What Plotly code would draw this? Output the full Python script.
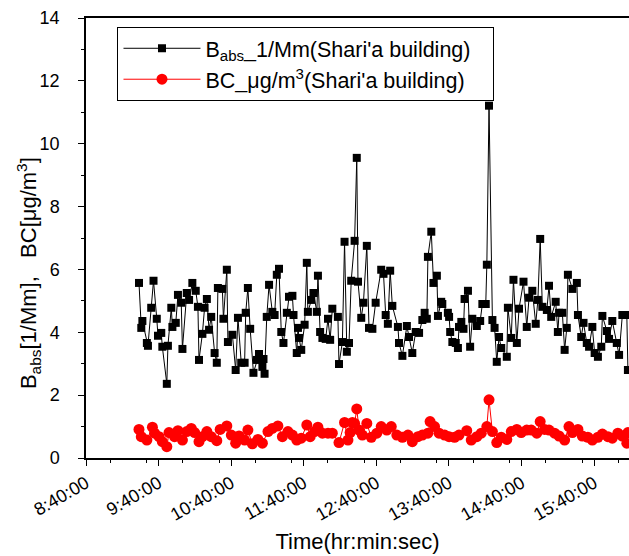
import pandas as pd
import plotly.graph_objects as go

BABS_MIN = [43.8, 45.7, 46.6, 50.3, 51.2, 53.9, 55.8, 58.5, 59.5, 62.2, 63.1, 66.8, 67.7, 70.5, 71.4, 74.2, 76.0, 78.7, 79.7, 83.3,
            85.2, 87.9, 90.7, 92.5, 93.4, 96.2, 98.0, 99.9, 101.7, 103.5, 106.3, 108.1, 109.0, 112.7, 113.6, 116.4, 117.3, 121.0, 123.7, 125.6,
            128.3, 131.1, 132.0, 133.8, 135.7, 138.4, 141.2, 143.0, 145.8, 146.7, 147.6, 149.4, 151.3, 154.0, 155.9, 157.7, 159.5, 161.4, 163.2, 166.0,
            167.8, 170.6, 171.5, 174.2, 175.2, 176.1, 177.9, 180.7, 182.5, 183.4, 186.2, 188.0, 190.8, 191.7, 193.5, 195.4, 198.1, 200.0, 201.8, 203.6,
            208.2, 209.1, 211.9, 213.7, 215.6, 217.4, 219.2, 222.0, 223.8, 224.8, 227.5, 229.3, 232.1, 233.9, 236.7, 239.4, 244.0, 245.9, 247.7, 249.5,
            251.4, 253.2, 257.8, 258.7, 261.5, 265.2, 267.0, 269.7, 272.5, 275.3, 278.0, 279.9, 281.7, 282.6, 285.4, 287.2, 290.0, 290.9, 293.6, 294.5,
            299.1, 300.1, 301.0, 302.8, 305.6, 307.4, 308.3, 310.2, 312.0, 312.9, 315.7, 317.5, 319.3, 323.0, 325.8, 327.6, 330.4, 331.3, 333.1, 335.9,
            337.7, 339.5, 341.4, 343.2, 347.8, 348.7, 351.5, 353.3, 356.1, 357.9, 361.6, 364.3, 366.2, 368.9, 371.7, 373.5, 375.4, 377.2, 380.9, 382.7,
            384.5, 388.2, 390.0, 391.0, 393.7, 395.6, 397.4, 398.3, 402.0, 405.7, 406.6, 409.3, 411.2, 413.9, 415.8, 418.5, 420.4, 423.1, 425.9, 426.8,
            430.5, 432.3, 435.0, 438.7, 440.6, 443.3, 447.0, 447.9]
BABS = [5.57, 4.14, 4.36, 3.66, 3.57, 4.78, 5.64, 4.43, 3.89, 3.98, 3.54, 2.36, 3.57, 4.78, 4.17, 4.30, 5.19, 4.94, 3.47, 5.25,
        5.03, 5.57, 5.32, 4.81, 3.12, 3.95, 4.78, 5.06, 4.08, 4.49, 3.34, 3.03, 5.41, 5.38, 4.43, 5.99, 3.69, 3.92, 2.80, 4.46,
        3.03, 3.03, 4.62, 5.41, 4.11, 2.71, 3.12, 3.31, 2.90, 3.15, 2.68, 4.49, 5.51, 4.65, 4.55, 5.83, 6.02, 4.01, 3.66, 4.62,
        5.13, 5.16, 4.55, 3.34, 4.14, 3.82, 3.44, 4.24, 6.21, 4.65, 5.03, 5.25, 4.65, 5.80, 4.01, 3.82, 3.79, 4.43, 3.76, 4.75,
        4.49, 2.99, 3.69, 6.88, 3.38, 3.66, 5.64, 6.91, 9.55, 5.61, 4.46, 4.94, 6.75, 4.14, 4.11, 4.94, 5.99, 5.86, 4.55, 4.27,
        5.96, 4.84, 4.17, 3.66, 3.25, 4.20, 3.85, 3.34, 4.01, 3.98, 4.39, 4.62, 4.43, 6.40, 7.20, 5.57, 5.80, 4.52, 4.97, 4.90,
        4.62, 4.49, 4.01, 3.69, 3.66, 3.50, 4.17, 4.33, 4.11, 5.06, 5.32, 3.54, 4.43, 4.20, 4.36, 4.90, 4.90, 6.15, 11.21, 4.39,
        4.14, 3.06, 3.85, 3.50, 3.22, 4.78, 3.82, 5.67, 3.66, 4.75, 5.61, 4.17, 5.10, 5.32, 4.27, 5.03, 6.97, 4.81, 4.71, 5.48,
        4.49, 4.97, 4.01, 4.62, 4.62, 3.44, 4.14, 5.83, 5.38, 5.57, 4.55, 3.85, 4.30, 3.66, 3.54, 4.17, 3.34, 3.22, 3.54, 4.52,
        4.04, 3.79, 4.36, 3.66, 3.28, 4.55, 4.55, 2.80]

BC_MIN = [43.8, 45.7, 50.3, 54.9, 56.7, 60.4, 63.1, 66.8, 68.6, 73.2, 76.0, 79.7, 83.3, 87.0, 89.8, 93.4, 96.2, 99.9, 103.5, 108.1,
          110.9, 116.4, 120.1, 123.7, 126.5, 131.1, 133.8, 137.5, 142.1, 145.8, 150.4, 154.0, 158.6, 162.3, 166.9, 170.6, 174.2, 177.9, 182.5, 185.3,
          188.9, 191.7, 195.4, 200.0, 203.6, 209.1, 213.7, 216.5, 218.3, 220.2, 222.0, 223.8, 225.7, 228.4, 232.1, 235.8, 240.4, 244.0, 248.6, 252.3,
          256.9, 261.5, 266.1, 269.7, 274.3, 278.0, 282.6, 284.4, 288.1, 291.8, 296.4, 300.1, 304.6, 308.3, 314.7, 318.4, 323.0, 326.7, 331.3, 333.1,
          335.9, 339.5, 343.2, 347.8, 351.5, 356.1, 359.7, 364.3, 368.0, 372.6, 375.4, 379.0, 382.7, 387.3, 391.0, 395.6, 399.2, 402.0, 406.6, 410.2,
          414.8, 418.5, 423.1, 426.8, 431.4, 435.0, 439.6, 443.3, 447.0, 447.9]
BC = [0.91, 0.68, 0.57, 0.98, 0.79, 0.68, 0.52, 0.36, 0.81, 0.68, 0.87, 0.57, 0.84, 0.94, 0.81, 0.52, 0.68, 0.84, 0.68, 0.55,
      0.91, 1.02, 0.73, 0.47, 0.70, 0.57, 0.89, 0.45, 0.59, 0.47, 0.84, 0.94, 1.02, 0.68, 0.84, 0.73, 0.57, 0.63, 1.05, 0.68,
      0.84, 0.98, 0.79, 0.79, 0.79, 0.49, 1.13, 0.57, 0.81, 1.13, 1.10, 1.56, 0.89, 0.73, 1.10, 0.66, 0.79, 1.00, 0.89, 1.00,
      0.73, 0.66, 0.73, 0.52, 0.68, 0.73, 0.79, 1.16, 1.00, 0.79, 0.73, 0.68, 0.66, 0.73, 0.87, 0.57, 0.68, 0.79, 1.00, 1.85,
      0.84, 0.49, 0.66, 0.59, 0.84, 0.91, 0.81, 0.89, 0.89, 0.79, 1.16, 0.91, 0.89, 0.79, 0.70, 0.57, 1.00, 0.81, 0.91, 0.70,
      0.66, 0.57, 0.66, 0.76, 0.68, 0.63, 0.79, 0.70, 0.47, 0.81]

START = pd.Timestamp("2000-01-01 08:40:00")
babs_t = START + pd.to_timedelta(BABS_MIN, unit="min")
bc_t = START + pd.to_timedelta(BC_MIN, unit="min")

FONT = "Arial, 'Liberation Sans', sans-serif"
NBSP = "\u00a0"

fig = go.Figure()
fig.add_trace(go.Scatter(
    x=babs_t, y=BABS, mode="lines+markers",
    name="B<sub>abs</sub>_1/Mm(Shari'a building)" + NBSP * 3,
    line=dict(color="black", width=1),
    marker=dict(symbol="square", size=8, color="black"),
))
fig.add_trace(go.Scatter(
    x=bc_t, y=BC, mode="lines+markers",
    name="BC_μg/m<sup>3</sup>(Shari'a building)",
    line=dict(color="red", width=1),
    marker=dict(symbol="circle", size=11, color="red"),
))

fig.update_layout(
    width=629, height=556,
    margin=dict(l=86, r=0, t=18, b=98),
    paper_bgcolor="white", plot_bgcolor="white",
    font=dict(family=FONT, color="black"),
    showlegend=True,
    legend=dict(
        x=0.058, y=0.98, xanchor="left", yanchor="top",
        bordercolor="black", borderwidth=1, bgcolor="white",
        font=dict(size=21.5), tracegroupgap=0, itemwidth=77,
    ),
)
fig.update_xaxes(
    type="date", automargin=False,
    range=[START, START + pd.Timedelta(minutes=448.8)],
    tick0=START, dtick=3600000, tickformat="%-H:%M:%S", tickangle=-30,
    ticks="outside", ticklen=6, tickwidth=1.3, tickcolor="black",
    minor=dict(dtick=1800000, ticks="outside", ticklen=3, tickwidth=1.3, tickcolor="black"),
    showline=True, linecolor="black", linewidth=1.5, mirror=True,
    showgrid=False, zeroline=False,
    tickfont=dict(size=18),
    title=dict(text="Time(hr:min:sec)", font=dict(size=22), standoff=10),
)
fig.update_yaxes(
    range=[0, 14], dtick=2, automargin=False,
    ticks="outside", ticklen=6, tickwidth=1.3, tickcolor="black",
    minor=dict(dtick=1, ticks="outside", ticklen=3, tickwidth=1.3, tickcolor="black"),
    showline=True, linecolor="black", linewidth=1.5,
    showgrid=False, zeroline=False,
    tickfont=dict(size=18), ticksuffix=NBSP * 3,
)
# y-axis title placed as an annotation so it can sit close to the tick labels
fig.add_annotation(
    text="B<sub>abs</sub>[1/Mm],  " + NBSP + "BC[μg/m<sup>3</sup>]",
    xref="paper", yref="paper", x=-0.107, y=0.42,
    xanchor="center", yanchor="middle", textangle=-90,
    showarrow=False, font=dict(size=22),
)

fig.write_html(
    "out.html",
    config={"displayModeBar": False},
    post_script="document.body.style.margin='0px';",
)
